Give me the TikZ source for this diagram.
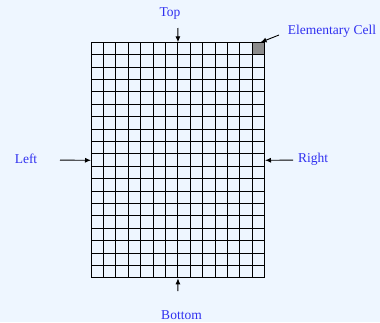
\documentclass[tikz,border=0pt]{standalone}
\usepackage{fontspec}
\setmainfont{Liberation Serif}
\usetikzlibrary{arrows.meta,positioning}
\definecolor{pagebg}{HTML}{EEF6FF}
\definecolor{labelblue}{HTML}{3030F0}
\definecolor{cellgray}{HTML}{8C8C8C}

\begin{document}
\begin{tikzpicture}[
    x=1pt, y=-1pt,
    font=\fontsize{13.5}{16}\selectfont,
    >={Latex[length=6pt,width=5pt]},
    side/.style={text=labelblue, inner sep=1pt},
    arrow/.style={->, line width=0.9pt},
    gridline/.style={line width=0.9pt, black}
]
\fill[pagebg] (0,0) rectangle (380,322);
\useasboundingbox (0,0) rectangle (380,322);
% panel of 14 x 19 cells
\node[minimum width=173.6pt, minimum height=235.6pt, inner sep=0pt, anchor=north west] (panel) at (91,42.3) {};
\node[fill=cellgray, minimum size=12.4pt, inner sep=0pt, anchor=north east] (cell) at (panel.north east) {};
\foreach \i in {0,...,14}
    \draw[gridline] (91+\i*12.4,42.3) -- (91+\i*12.4,277.9);
\foreach \j in {0,...,19}
    \draw[gridline] (91,42.3+\j*12.4) -- (264.6,42.3+\j*12.4);
% labels
\node[side] (top) at (170,14) {Top};
\node[side] (bottom) at (181.5,315) {Bottom};
\node[side] (left) at (26,159) {Left};
\node[side] (right) at (313,159) {Right};
\node[side] (celllabel) at (332,31) {Elementary Cell};
\coordinate (topstart) at (177.8,28);
\coordinate (bottomstart) at (177.8,291);
\coordinate (leftstart) at (60,160.1);
\coordinate (rightstart) at (293,160.1);
\coordinate (cellstart) at (279,35);
\draw[arrow] (topstart) -- (panel.north);
\draw[arrow] (bottomstart) -- (panel.south);
\draw[arrow] (leftstart) -- (panel.west);
\draw[arrow] (rightstart) -- (panel.east);
\draw[arrow] (cellstart) -- ([xshift=2pt]cell.north);
\end{tikzpicture}
\end{document}
